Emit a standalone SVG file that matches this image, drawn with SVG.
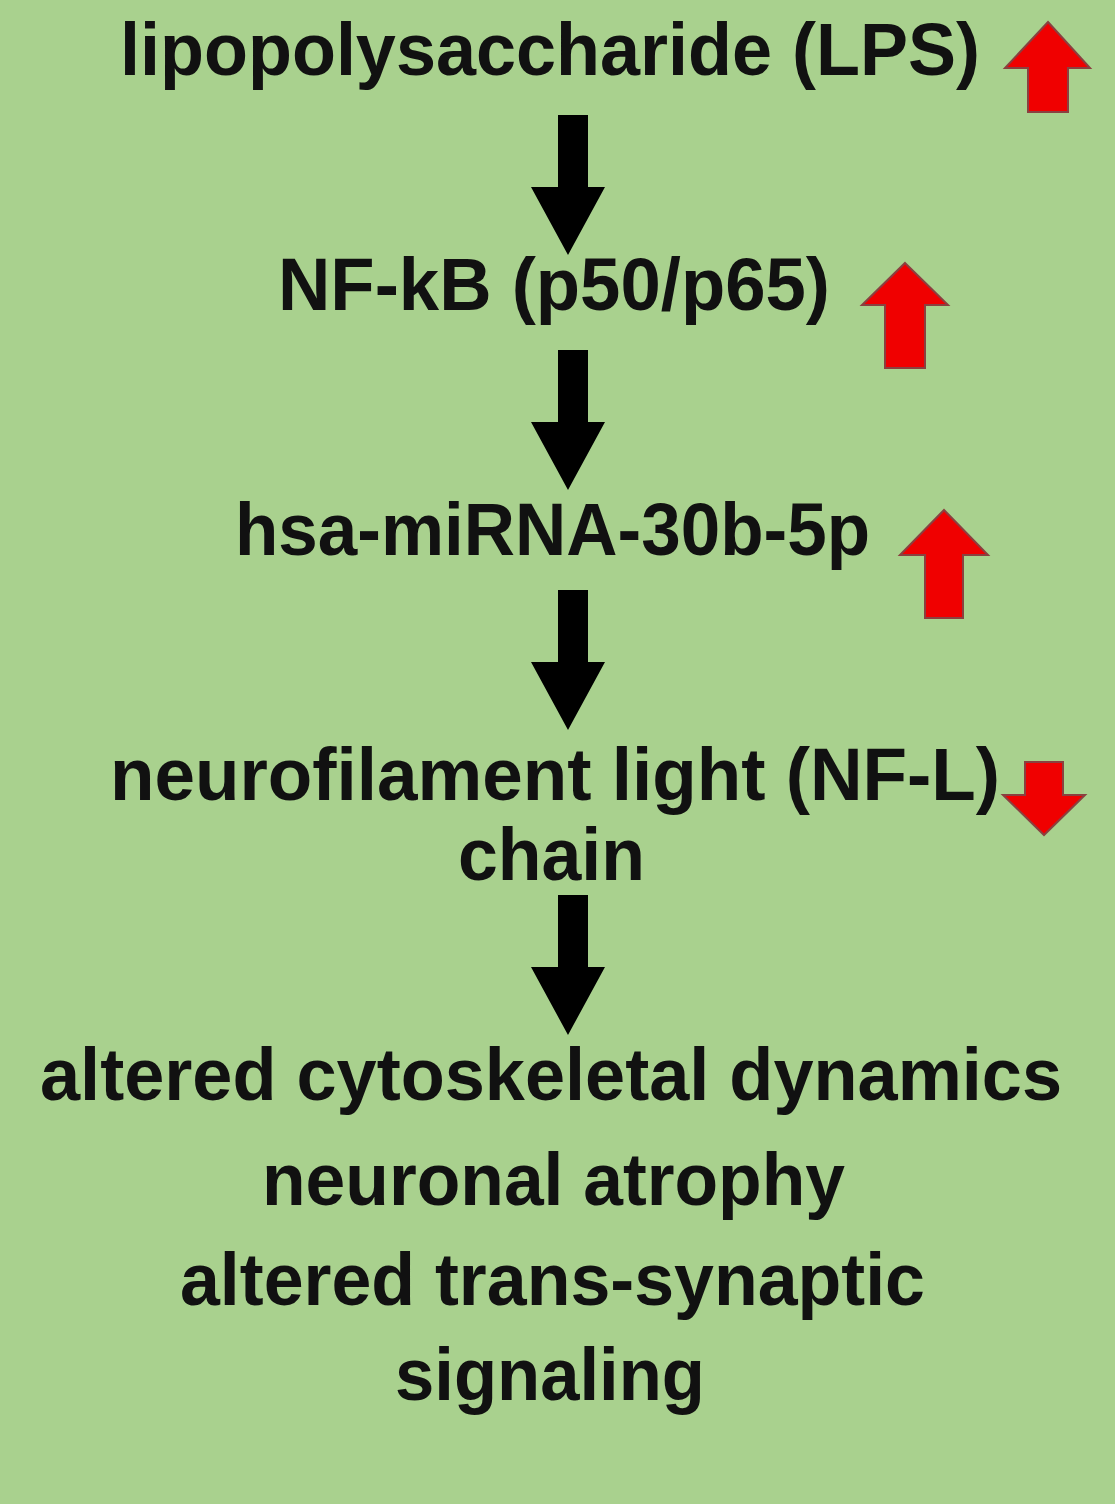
<svg xmlns="http://www.w3.org/2000/svg" width="1115" height="1504" viewBox="0 0 1115 1504">
<style>
text{font-family:"Liberation Sans",Arial,sans-serif;font-weight:bold;font-size:74px;fill:#111;}
.blk{fill:#000;}
.red{fill:#f00000;stroke:#8a4040;stroke-width:2;}
</style>
<rect width="1115" height="1504" fill="#a9d18e"/>
<g id="lps"><text x="120" y="75" textLength="860" lengthAdjust="spacingAndGlyphs">lipopolysaccharide (LPS)</text>
<polygon class="red" points="1048,22 1090,68 1068,68 1068,112 1028,112 1028,68 1005,68"/></g>
<g id="nfkb"><text x="278" y="310" textLength="552" lengthAdjust="spacingAndGlyphs">NF-kB (p50/p65)</text>
<polygon class="red" points="905,263 948,305 925,305 925,368 885,368 885,305 862,305"/></g>
<g id="mirna"><text x="235" y="555" textLength="635" lengthAdjust="spacingAndGlyphs">hsa-miRNA-30b-5p</text>
<polygon class="red" points="944,510 988,555 963,555 963,618 925,618 925,555 900,555"/></g>
<g id="nfl"><text x="110" y="800" textLength="890" lengthAdjust="spacingAndGlyphs">neurofilament light (NF-L)</text>
<text x="458" y="880" textLength="187" lengthAdjust="spacingAndGlyphs">chain</text>
<polygon class="red" points="1025,762 1063,762 1063,795 1085,795 1044,835 1003,795 1025,795"/></g>
<g id="outcome"><text x="40" y="1100" textLength="1022" lengthAdjust="spacingAndGlyphs">altered cytoskeletal dynamics</text>
<text x="262" y="1205" textLength="583" lengthAdjust="spacingAndGlyphs">neuronal atrophy</text>
<text x="180" y="1305" textLength="745" lengthAdjust="spacingAndGlyphs">altered trans-synaptic</text>
<text x="395" y="1400" textLength="310" lengthAdjust="spacingAndGlyphs">signaling</text></g>
<g id="connectors">
<polygon class="blk" points="558,115 588,115 588,187 605,187 568,255 531,187 558,187"/>
<polygon class="blk" points="558,350 588,350 588,422 605,422 568,490 531,422 558,422"/>
<polygon class="blk" points="558,590 588,590 588,662 605,662 568,730 531,662 558,662"/>
<polygon class="blk" points="558,895 588,895 588,967 605,967 568,1035 531,967 558,967"/>
</g>
</svg>
